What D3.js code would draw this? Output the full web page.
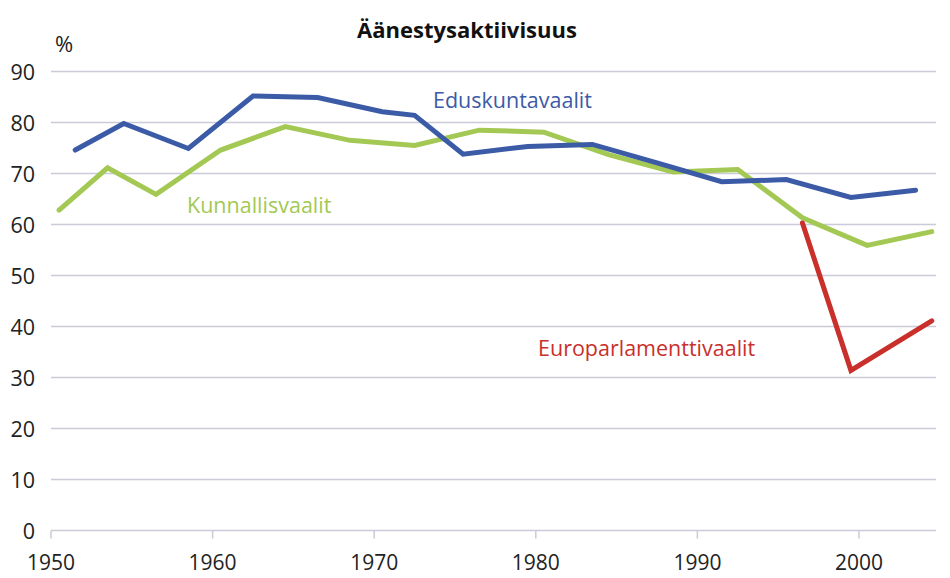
<!DOCTYPE html>
<html>
<head>
<meta charset="utf-8">
<script src="https://cdn.jsdelivr.net/npm/d3@7"></script>
<style>
  body { margin: 0; background: #fff; }
  text { font-family: "Open Sans", "Noto Sans", sans-serif; }
</style>
</head>
<body>
<div id="chart"></div>
<script>
const eduYears = [1951, 1954, 1958, 1962, 1966, 1970, 1972, 1975, 1979, 1983, 1987, 1991, 1995, 1999, 2003];
const eduValues = [74.6, 79.8, 74.9, 85.2, 84.9, 82.1, 81.4, 73.8, 75.3, 75.7, 72.1, 68.4, 68.8, 65.3, 66.7];

const kunYears = [1950, 1953, 1956, 1960, 1964, 1968, 1972, 1976, 1980, 1984, 1988, 1992, 1996, 2000, 2004];
const kunValues = [62.8, 71.1, 65.9, 74.6, 79.2, 76.5, 75.5, 78.5, 78.1, 73.7, 70.3, 70.8, 61.3, 55.9, 58.6];

const euYears = [1996, 1999, 2004];
const euValues = [60.3, 31.4, 41.1];

const yTicks = [0, 10, 20, 30, 40, 50, 60, 70, 80, 90];
const xTicks = [1950, 1960, 1970, 1980, 1990, 2000];

const width = 950, height = 578;
const plotLeft = 51, plotRight = 936, plotTop = 71.5, plotBottom = 530.5;

const svg = d3.select("#chart").append("svg")
  .attr("width", width)
  .attr("height", height);

const x = d3.scaleLinear().domain([1950, 2000]).range([plotLeft, 859]);
const y = d3.scaleLinear().domain([0, 90]).range([plotBottom, plotTop]);

// gridlines
svg.append("g").selectAll("line")
  .data(yTicks)
  .enter().append("line")
  .attr("x1", plotLeft).attr("x2", plotRight)
  .attr("y1", d => y(d)).attr("y2", d => y(d))
  .attr("stroke", "#c9ccd8")
  .attr("stroke-width", 1.5);

// y labels
svg.append("g").selectAll("text")
  .data(yTicks)
  .enter().append("text")
  .attr("x", 35)
  .attr("y", d => y(d) + 8)
  .attr("text-anchor", "end")
  .attr("font-size", 21.5)
  .attr("fill", "#222")
  .text(d => d);

// x ticks
svg.append("g").selectAll("line")
  .data(xTicks)
  .enter().append("line")
  .attr("x1", d => x(d)).attr("x2", d => x(d))
  .attr("y1", plotBottom).attr("y2", plotBottom + 8)
  .attr("stroke", "#c9ccd8")
  .attr("stroke-width", 1.5);

svg.append("g").selectAll("text")
  .data(xTicks)
  .enter().append("text")
  .attr("x", d => x(d))
  .attr("y", 570)
  .attr("text-anchor", "middle")
  .attr("font-size", 21)
  .attr("fill", "#222")
  .text(d => d);

// points sit in the middle of the year
const line = d3.line()
  .x(d => x(d[0] + 0.5))
  .y(d => y(d[1]));

const series = [
  { years: kunYears, values: kunValues, color: "#a3c853" },
  { years: euYears, values: euValues, color: "#c9302b" },
  { years: eduYears, values: eduValues, color: "#3c5ba6" }
];

series.forEach(s => {
  svg.append("path")
    .datum(d3.zip(s.years, s.values))
    .attr("d", line)
    .attr("fill", "none")
    .attr("stroke", s.color)
    .attr("stroke-width", 5)
    .attr("stroke-linejoin", "miter")
    .attr("stroke-linecap", "round");
});

// labels
svg.append("text")
  .attr("x", 433).attr("y", 108)
  .attr("font-size", 21.5)
  .attr("fill", "#3c5ba6")
  .text("Eduskuntavaalit");

svg.append("text")
  .attr("x", 187).attr("y", 213)
  .attr("font-size", 21.5)
  .attr("fill", "#a3c853")
  .text("Kunnallisvaalit");

svg.append("text")
  .attr("x", 538).attr("y", 356)
  .attr("font-size", 21.5)
  .attr("fill", "#c9302b")
  .text("Europarlamenttivaalit");

svg.append("text")
  .attr("x", 467).attr("y", 38)
  .attr("text-anchor", "middle")
  .attr("font-size", 22)
  .attr("font-weight", "bold")
  .attr("fill", "#111")
  .text("Äänestysaktiivisuus");

svg.append("text")
  .attr("x", 55).attr("y", 52)
  .attr("font-size", 22)
  .attr("fill", "#222")
  .text("%");
</script>
</body>
</html>
